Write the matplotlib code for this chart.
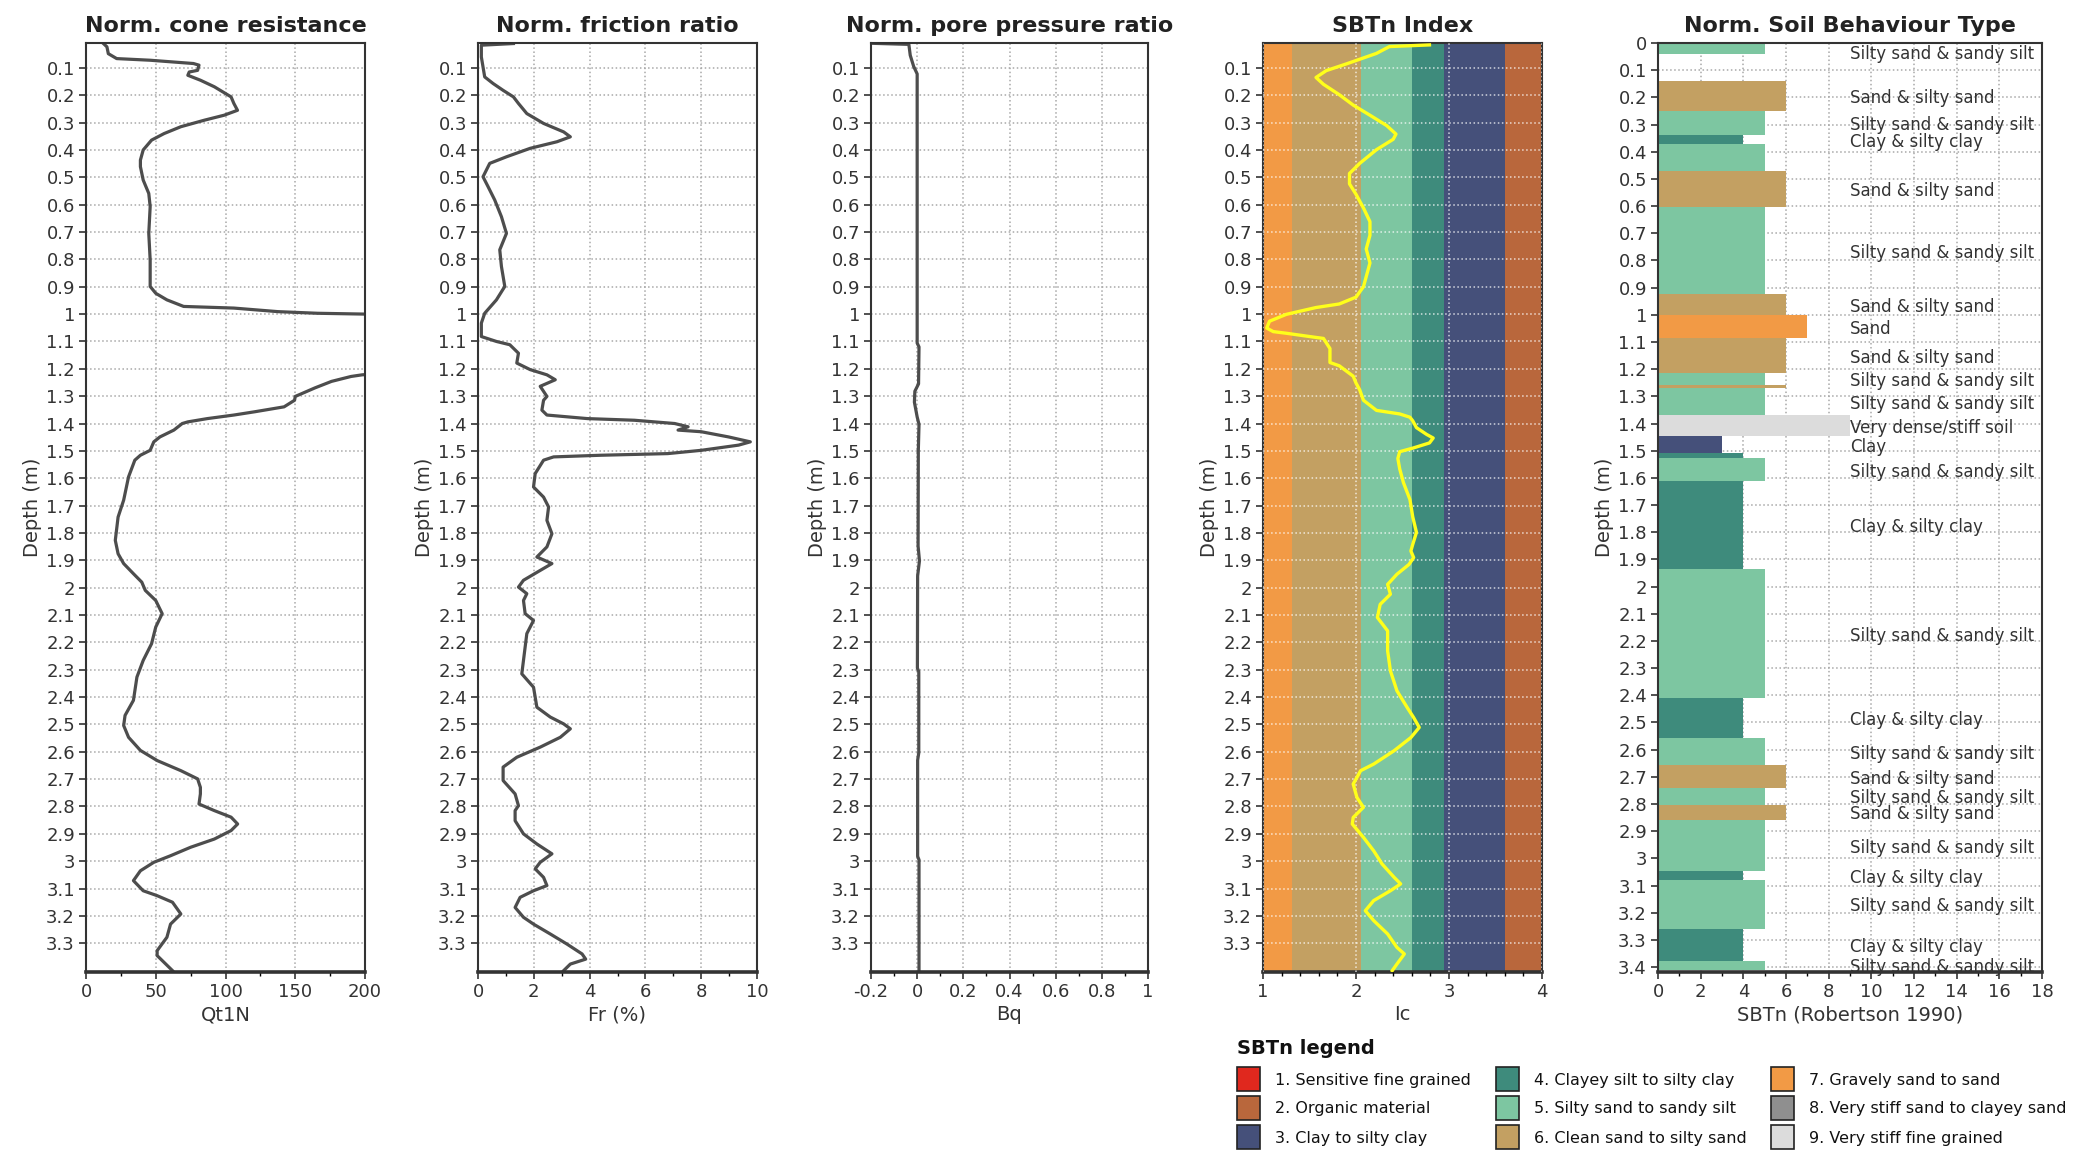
import numpy as np
import matplotlib.pyplot as plt
from matplotlib.patches import Rectangle
from matplotlib.ticker import MultipleLocator, FuncFormatter

plt.rcParams['font.family'] = ['DejaVu Sans']
plt.rcParams['axes.unicode_minus'] = False

# ---------------- data ----------------
# normalised cone resistance Qt1N
qt_depth = [0.011, 0.023, 0.048, 0.066, 0.072, 0.084, 0.090, 0.109, 0.115, 0.127, 0.145, 0.169,
            0.206, 0.230, 0.255, 0.273, 0.291, 0.315, 0.340, 0.364, 0.400, 0.437, 0.461, 0.510,
            0.559, 0.607, 0.705, 0.802, 0.899, 0.924, 0.948, 0.972, 0.978, 0.991, 0.997, 1.000,
            1.05, 1.20, 1.222, 1.228, 1.246, 1.270, 1.301,
            1.315, 1.339, 1.357, 1.369, 1.382, 1.394, 1.400, 1.424, 1.449, 1.467, 1.498, 1.516,
            1.534, 1.595, 1.680, 1.742, 1.827, 1.876, 1.912, 1.949, 1.980, 2.010, 2.047, 2.095,
            2.144, 2.205, 2.266, 2.327, 2.412, 2.467, 2.504, 2.547, 2.595, 2.632, 2.669, 2.699,
            2.730, 2.754, 2.791, 2.815, 2.839, 2.864, 2.888, 2.919, 2.949, 2.980, 3.004, 3.035,
            3.071, 3.108, 3.126, 3.150, 3.193, 3.230, 3.278, 3.327, 3.345, 3.370, 3.400]
qt_val = [12.5, 15, 16, 22, 46, 77, 81, 80, 74, 73, 82, 92,
          104, 106, 108.6, 99, 85, 68, 56, 47, 41, 39, 39, 41,
          45, 46, 45, 46, 46, 50, 58, 70, 106, 137.5, 166, 200,
          260, 260, 198, 190, 176, 164, 150,
          149.5, 142, 121, 106, 87, 73, 69, 63, 53, 48.6, 46, 39,
          35, 30.5, 27, 23, 21, 23, 27, 34, 40, 42.5, 50, 54.6,
          50, 47, 41, 36.5, 34, 28, 27, 30.5, 39, 51, 68, 80,
          82, 82, 81, 92, 104, 108.7, 104, 92, 75, 60.6, 48.6, 39,
          34, 41, 51, 62, 68, 60.6, 58, 51, 51, 56, 62]

# normalised friction ratio Fr (%)
fr_depth = [0.011, 0.017, 0.060, 0.133, 0.157, 0.182, 0.206, 0.230, 0.267, 0.303, 0.334, 0.352,
            0.370, 0.394, 0.425, 0.449, 0.498, 0.534, 0.583, 0.644, 0.705, 0.765, 0.826, 0.899,
            0.948, 0.997, 1.033, 1.082, 1.100, 1.112, 1.143, 1.179, 1.203, 1.222, 1.240, 1.264,
            1.301, 1.315, 1.351, 1.369, 1.382, 1.388, 1.400, 1.412, 1.424, 1.430, 1.449, 1.467,
            1.479, 1.498, 1.510, 1.516, 1.522, 1.534, 1.583, 1.632, 1.669, 1.705, 1.754, 1.803,
            1.851, 1.888, 1.912, 1.937, 1.973, 1.998, 2.022, 2.047, 2.095, 2.120, 2.168, 2.266,
            2.315, 2.364, 2.437, 2.473, 2.498, 2.516, 2.547, 2.583, 2.620, 2.656, 2.705, 2.754,
            2.797, 2.815, 2.852, 2.900, 2.937, 2.973, 3.004, 3.028, 3.059, 3.089, 3.108, 3.132,
            3.169, 3.205, 3.230, 3.266, 3.303, 3.339, 3.358, 3.376, 3.400]
fr_val = [1.27, 0.12, 0.12, 0.24, 0.54, 0.90, 1.27, 1.45, 1.75, 2.35, 3.07, 3.31,
          2.83, 1.87, 1.02, 0.42, 0.18, 0.36, 0.60, 0.84, 1.02, 0.78, 0.84, 0.96,
          0.66, 0.24, 0.12, 0.12, 0.66, 1.14, 1.45, 1.39, 1.87, 2.47, 2.77, 2.23,
          2.47, 2.35, 2.29, 2.47, 3.92, 5.60, 7.05, 7.53, 7.17, 8.00, 8.98, 9.76,
          9.34, 8.00, 6.80, 4.40, 2.71, 2.35, 2.05, 1.99, 2.35, 2.53, 2.47, 2.65,
          2.47, 2.11, 2.65, 2.23, 1.63, 1.45, 1.75, 1.63, 1.69, 1.99, 1.75, 1.63,
          1.57, 1.99, 2.11, 2.59, 3.07, 3.31, 2.95, 2.23, 1.39, 0.90, 0.90, 1.33,
          1.45, 1.33, 1.33, 1.63, 2.11, 2.65, 2.23, 2.05, 2.35, 2.47, 1.99, 1.51,
          1.33, 1.63, 1.99, 2.59, 3.19, 3.73, 3.86, 3.31, 3.07]

# normalised pore pressure ratio Bq
bq_depth = [0.010, 0.014, 0.054, 0.095, 0.122, 1.106, 1.120, 1.255, 1.282, 1.322, 1.376, 1.403,
            1.498, 1.848, 1.902, 1.957, 2.294, 2.307, 2.604, 2.631, 2.982, 2.995, 3.400]
bq_val = [-0.20, -0.036, -0.03, -0.015, 0.0, 0.0, 0.008, 0.006, -0.010, -0.012, 0.0, 0.008,
          0.005, 0.004, 0.010, 0.002, 0.001, 0.007, 0.007, 0.002, 0.002, 0.008, 0.008]

# SBTn index Ic
ic_depth = [0.016, 0.022, 0.047, 0.085, 0.110, 0.135, 0.160, 0.198, 0.236, 0.273, 0.311, 0.342,
            0.361, 0.399, 0.449, 0.486, 0.524, 0.562, 0.612, 0.662, 0.712, 0.762, 0.813, 0.863,
            0.900, 0.938, 0.963, 0.976, 1.001, 1.026, 1.051, 1.064, 1.070, 1.082, 1.089, 1.126,
            1.177, 1.189, 1.227, 1.252, 1.277, 1.315, 1.352, 1.365, 1.377, 1.390, 1.415, 1.440,
            1.453, 1.471, 1.490, 1.503, 1.528, 1.566, 1.616, 1.678, 1.741, 1.798, 1.842, 1.866,
            1.890, 1.915, 1.951, 1.988, 2.024, 2.061, 2.109, 2.158, 2.231, 2.304, 2.377, 2.438,
            2.475, 2.511, 2.548, 2.596, 2.645, 2.669, 2.718, 2.767, 2.803, 2.840, 2.864, 2.913,
            2.962, 3.010, 3.059, 3.083, 3.108, 3.144, 3.181, 3.217, 3.266, 3.315, 3.339, 3.376,
            3.400]
ic_val = [2.79, 2.36, 2.22, 1.90, 1.68, 1.57, 1.65, 1.82, 1.97, 2.15, 2.33, 2.43,
          2.40, 2.22, 2.04, 1.93, 1.93, 2.00, 2.08, 2.15, 2.15, 2.11, 2.15, 2.11,
          2.08, 2.00, 1.82, 1.57, 1.25, 1.07, 1.04, 1.11, 1.25, 1.50, 1.65, 1.72,
          1.72, 1.82, 1.97, 2.00, 2.04, 2.08, 2.22, 2.47, 2.58, 2.61, 2.65, 2.76,
          2.83, 2.79, 2.61, 2.47, 2.45, 2.47, 2.51, 2.58, 2.61, 2.65, 2.61, 2.59,
          2.62, 2.57, 2.44, 2.34, 2.37, 2.26, 2.23, 2.34, 2.34, 2.37, 2.44, 2.55,
          2.62, 2.68, 2.59, 2.41, 2.19, 2.05, 1.97, 2.01, 2.08, 1.97, 1.96, 2.08,
          2.19, 2.28, 2.41, 2.48, 2.37, 2.19, 2.10, 2.19, 2.34, 2.44, 2.52, 2.44,
          2.39]

# Robertson Ic zone boundaries and the zone each band belongs to
ic_bounds = [1.0, 1.31, 2.05, 2.60, 2.95, 3.60, 4.0]
ic_zones = [7, 6, 5, 4, 3, 2]

# SBTn layers (boundaries, zone number, 0 = no value) and which layers carry a label
layer_bounds = [0.0, 0.039, 0.138, 0.25, 0.34, 0.372, 0.47, 0.604, 0.922, 1.001, 1.087, 1.215,
                1.258, 1.27, 1.368, 1.447, 1.508, 1.526, 1.612, 1.935, 2.411, 2.558, 2.656,
                2.741, 2.802, 2.857, 3.047, 3.078, 3.26, 3.376, 3.41]
layer_zone = [5, 0, 6, 5, 4, 5, 6, 5, 6, 7, 6, 5, 6, 5, 9, 3, 4, 5, 4, 5,
              4, 5, 6, 5, 6, 5, 4, 5, 4, 5]
layer_labelled = [1, 0, 1, 1, 1, 0, 1, 1, 1, 1, 1, 1, 0, 1, 1, 1, 0, 1, 1, 1,
                  1, 1, 1, 1, 1, 1, 1, 1, 1, 1]

zone_short = {3: 'Clay', 4: 'Clay & silty clay', 5: 'Silty sand & sandy silt',
              6: 'Sand & silty sand', 7: 'Sand', 9: 'Very dense/stiff soil'}
zone_colors = {1: '#e0281e', 2: '#b9673c', 3: '#45507a', 4: '#3e8b7c', 5: '#7dc6a1',
               6: '#c3a062', 7: '#f29a45', 8: '#8f8f8f', 9: '#dcdcdc'}
legend_names = ['1. Sensitive fine grained', '2. Organic material', '3. Clay to silty clay',
                '4. Clayey silt to silty clay', '5. Silty sand to sandy silt',
                '6. Clean sand to silty sand', '7. Gravely sand to sand',
                '8. Very stiff sand to clayey sand', '9. Very stiff fine grained']

depth_ticks = np.round(np.arange(1, 34) / 10, 1)
depth_ticks_sbt = np.round(np.arange(0, 35) / 10, 1)

# ---------------- figure ----------------
W, H = 2084, 1154
fig = plt.figure(figsize=(W / 100, H / 100), dpi=100)
fmt = FuncFormatter(lambda v, p: f'{round(v, 6):g}')


def make_axes(left, width):
    return fig.add_axes([left / W, 1 - 972 / H, width / W, (972 - 43) / H])


def style(ax, title, xlabel, xlim, major, minor, yticks, ylim, grid_color='#a8a8a8'):
    ax.set_xlim(*xlim)
    ax.set_ylim(*ylim)
    ax.xaxis.set_major_locator(MultipleLocator(major))
    ax.xaxis.set_minor_locator(MultipleLocator(minor))
    ax.xaxis.set_major_formatter(fmt)
    ax.set_yticks(yticks)
    ax.set_yticklabels([f'{v:g}' for v in yticks])
    ax.set_title(title, fontsize=16, fontweight='bold', pad=8, color='#222222')
    ax.set_xlabel(xlabel, fontsize=14, labelpad=3, color='#333333')
    ax.set_ylabel('Depth (m)', fontsize=14, labelpad=3, color='#333333')
    ax.tick_params(labelsize=13, length=5, width=1.2, color='#333333', labelcolor='#333333', pad=3)
    ax.tick_params(axis='x', which='minor', length=3, width=1)
    ax.grid(True, which='major', ls=':', lw=1.1, color=grid_color)
    for s in ax.spines.values():
        s.set_linewidth(1.5)
        s.set_color('#333333')
    ax.spines['bottom'].set_linewidth(2.6)


line_kw = dict(color='#4d4d4d', lw=2.3)
ylim_main = (3.405, 0.009)

# panel 1
ax1 = make_axes(86, 279)
ax1.plot(qt_val, qt_depth, **line_kw)
style(ax1, 'Norm. cone resistance', 'Qt1N', (0, 200), 50, 25, depth_ticks, ylim_main)

# panel 2
ax2 = make_axes(478, 279)
ax2.plot(fr_val, fr_depth, **line_kw)
style(ax2, 'Norm. friction ratio', 'Fr (%)', (0, 10), 2, 1, depth_ticks, ylim_main)

# panel 3
ax3 = make_axes(871, 277)
ax3.plot(bq_val, bq_depth, **line_kw)
style(ax3, 'Norm. pore pressure ratio', 'Bq', (-0.2, 1), 0.2, 0.1, depth_ticks, ylim_main)

# panel 4
ax4 = make_axes(1263, 279)
for lo, hi, z in zip(ic_bounds[:-1], ic_bounds[1:], ic_zones):
    ax4.axvspan(lo, hi, color=zone_colors[z], lw=0, zorder=1)
ax4.plot(ic_val, ic_depth, color='#ffff1a', lw=2.4, zorder=4)
style(ax4, 'SBTn Index', 'Ic', (1, 4), 1, 0.2, depth_ticks, ylim_main, grid_color='#ffffff')
ax4.set_axisbelow(False)
for gl in ax4.get_xgridlines() + ax4.get_ygridlines():
    gl.set_alpha(0.75)
    gl.set_zorder(3)

# panel 5
ax5 = make_axes(1658, 384)
tops = np.array(layer_bounds[:-1])
bots = np.array(layer_bounds[1:])
for t, b, z in zip(tops, bots, layer_zone):
    if z:
        ax5.barh((t + b) / 2, z, height=b - t, color=zone_colors[z], lw=0, zorder=2)
prev = -1.0
for t, b, z, lab in zip(tops, bots, layer_zone, layer_labelled):
    if not lab:
        continue
    y = max((t + b) / 2 + 0.008, prev + 0.05, 0.04)
    prev = y
    ax5.text(9, y, zone_short[z], fontsize=12, va='center', ha='left', color='#333333', zorder=3)
style(ax5, 'Norm. Soil Behaviour Type', 'SBTn (Robertson 1990)', (0, 18), 2, 1,
      depth_ticks_sbt, (3.418, 0.0))
ax5.set_axisbelow(True)

# ---------------- SBTn legend ----------------
fig.text(1237 / W, 1 - 1048 / H, 'SBTn legend', fontsize=14, fontweight='bold',
         va='center', ha='left', color='#111111')
col_x = [1237, 1496, 1771]
for i, name in enumerate(legend_names):
    col, row = i // 3, i % 3
    x0 = col_x[col]
    y_top = 1067 + 29 * row
    fig.add_artist(Rectangle((x0 / W, 1 - (y_top + 24) / H), 23 / W, 24 / H,
                             transform=fig.transFigure, facecolor=zone_colors[i + 1],
                             edgecolor='#222222', lw=1.2))
    fig.text((x0 + 38) / W, 1 - (y_top + 13) / H, name, fontsize=11.5,
             va='center', ha='left', color='#111111')

fig.savefig('out.png', dpi=100, facecolor='white')
